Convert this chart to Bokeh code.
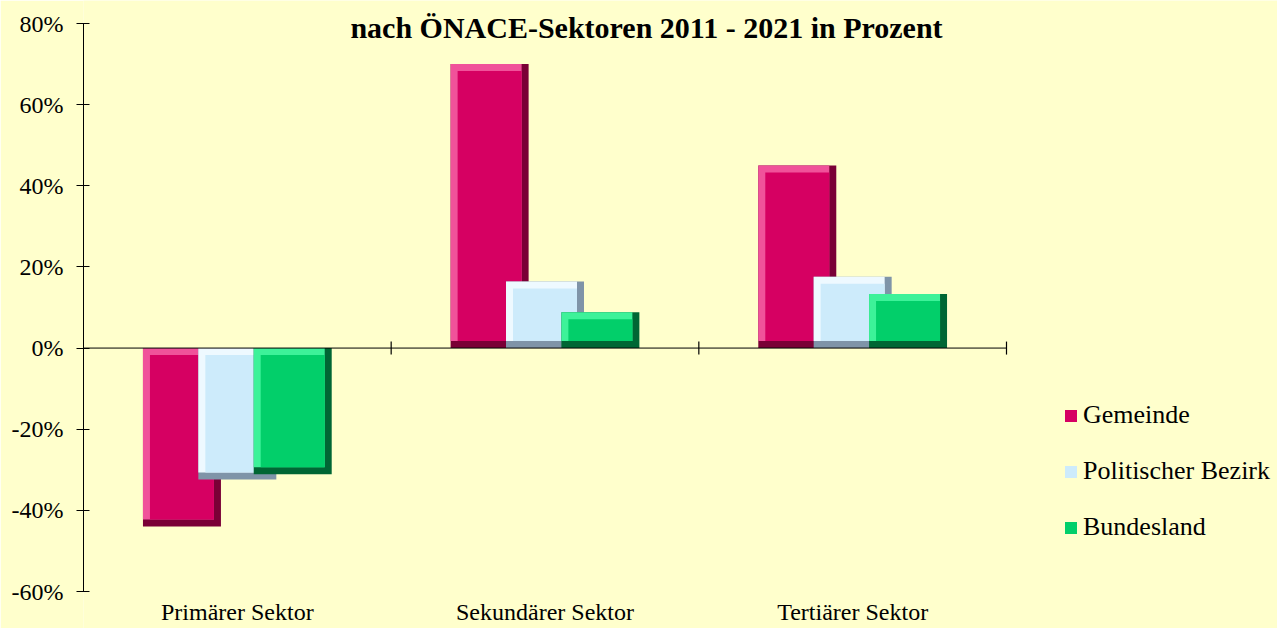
import math
from bokeh.plotting import figure
from bokeh.models import (ColumnDataSource, Range1d, FixedTicker,
                          PrintfTickFormatter, Label, Legend, LegendItem)
from bokeh.transform import dodge
from bokeh.embed import file_html
from bokeh.resources import INLINE

# ---------------- data ----------------
categories = ["Primärer Sektor", "Sekundärer Sektor", "Tertiärer Sektor"]
gemeinde = [-44.0, 70.0, 45.0]
politischer_bezirk = [-32.4, 16.4, 17.6]
bundesland = [-31.1, 8.8, 13.3]
series_names = ["Gemeinde", "Politischer Bezirk", "Bundesland"]
y_ticks = [-60, -40, -20, 0, 20, 40, 60, 80]
title_text = "nach ÖNACE-Sektoren 2011 - 2021 in Prozent"

# ---------------- styling / layout ----------------
BG = "#FFFFCC"
FONT = "Liberation Serif"
W, H = 1277, 628
LEFT = 83              # y axis position
Y_TOP_PX = 23          # pixel row of the top tick
Y_BOT_PX = 591         # pixel row of the bottom tick
PLOT_W = 923           # pixel width of the category area
n = len(categories)
y_lo, y_hi = min(y_ticks), max(y_ticks)
ppu = (Y_BOT_PX - Y_TOP_PX) / (y_hi - y_lo)
ppx = PLOT_W / n
x_max = (W - LEFT) / ppx
y_max = y_hi + Y_TOP_PX / ppu
y_min = y_lo - (H - Y_BOT_PX) / ppu

colors = {
    "Gemeinde": ("#D60062", "#F0529A", "#7A0036"),
    "Politischer Bezirk": ("#CDEBFB", "#EEF9FF", "#7F94A8"),
    "Bundesland": ("#02CF6A", "#3DF299", "#006634"),
}

bar_w = 0.2535
step = 0.180
bev_x = 7 / ppx
bev_y = 7 / ppu

p = figure(x_range=Range1d(0, x_max), y_range=Range1d(y_min, y_max),
           width=W, height=H, output_backend="svg", toolbar_location=None,
           min_border_left=LEFT, min_border_right=0,
           min_border_top=0, min_border_bottom=0)
p.background_fill_color = BG
p.border_fill_color = BG
p.outline_line_color = None
p.xgrid.grid_line_color = None
p.ygrid.grid_line_color = None

centers = [i + 0.5 for i in range(n)]

legend_items = []
for i, (name, vals) in enumerate(zip(series_names, [gemeinde, politischer_bezirk, bundesland])):
    top = [max(v, 0) for v in vals]
    bot = [min(v, 0) for v in vals]
    src = ColumnDataSource(dict(
        x=centers, top=top, bottom=bot,
        bottom_in=[b + bev_y for b in bot],
        top_in=[t - bev_y for t in top],
    ))
    off = (i - 1) * step
    face, light, dark = colors[name]
    p.vbar(x=dodge("x", off), top="top", bottom="bottom",
           width=bar_w, source=src, fill_color=dark, line_color=None)
    p.vbar(x=dodge("x", off - bev_x / 2), top="top", bottom="bottom_in",
           width=bar_w - bev_x, source=src, fill_color=light, line_color=None)
    r = p.vbar(x=dodge("x", off), top="top_in", bottom="bottom_in",
               width=bar_w - 2 * bev_x, source=src, fill_color=face, line_color=None)
    legend_items.append(LegendItem(label=name, renderers=[r]))

# zero line across the category area, with boundary ticks
p.segment(x0=[0], y0=[0], x1=[n], y1=[0], line_color="black", line_width=1)
p.scatter(x=[i + 1 for i in range(n)], y=[0] * n,
          marker="dash", angle=math.pi / 2, size=13, line_color="black", line_width=1.2)

# y axis
ya = p.yaxis[0]
ya.ticker = FixedTicker(ticks=y_ticks)
ya.formatter = PrintfTickFormatter(format="%d%%")
ya.bounds = (y_lo, y_hi)
ya.axis_line_color = "black"
ya.major_tick_line_color = "black"
ya.major_tick_in = 6
ya.major_tick_out = 7
ya.minor_tick_line_color = None
ya.major_label_standoff = 13
ya.major_label_text_font = FONT
ya.major_label_text_font_size = "24px"
ya.major_label_text_color = "black"

# x axis: category names under the value range
xa = p.xaxis[0]
xa.fixed_location = y_lo
xa.ticker = FixedTicker(ticks=centers)
xa.major_label_overrides = {c: lab for c, lab in zip(centers, categories)}
xa.axis_line_color = None
xa.major_tick_line_color = None
xa.major_tick_out = 0
xa.major_tick_in = 0
xa.minor_tick_line_color = None
xa.major_label_standoff = 7
xa.major_label_text_font = FONT
xa.major_label_text_font_size = "24px"
xa.major_label_text_color = "black"

# title
p.add_layout(Label(x=(646 - LEFT), y=y_hi, x_units="screen", y_units="data", y_offset=-4,
                   text=title_text, text_align="center", text_baseline="alphabetic",
                   text_font=FONT, text_font_size="30px", text_font_style="bold",
                   text_color="black"))

legend = Legend(items=legend_items, location=(980, 86), orientation="vertical",
                glyph_width=15, glyph_height=15, label_standoff=5, spacing=26,
                padding=0, margin=0, border_line_color=None, background_fill_alpha=0,
                label_text_font=FONT, label_text_font_size="26px", label_text_color="black")
p.add_layout(legend)

open("out.html", "w").write(file_html(p, INLINE))
